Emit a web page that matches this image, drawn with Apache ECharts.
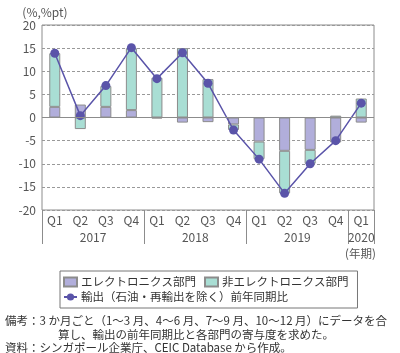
<!DOCTYPE html>
<html>
<head>
<meta charset="utf-8">
<script src="https://cdn.jsdelivr.net/npm/echarts@6/dist/echarts.min.js"></script>
<style>
  html, body { margin: 0; padding: 0; background: #fff; }
  #chart { width: 400px; height: 353px; }
</style>
</head>
<body>
<div id="chart"></div>
<script>
const QUARTERS = ['Q1', 'Q2', 'Q3', 'Q4', 'Q1', 'Q2', 'Q3', 'Q4', 'Q1', 'Q2', 'Q3', 'Q4', 'Q1']
const YEARS = ['2017', '2018', '2019', '2020']
const YEAR_CENTERS = [2, 6, 10, 12.5]
const YEAR_BREAKS = [0, 4, 8, 12, 13]

const ELECTRONICS = [2.3, 2.8, 2.3, 1.6, -0.2, -1.1, -1.0, -1.5, -5.2, -7.2, -7.0, -5.4, -1.1]
const NON_ELECTRONICS = [11.6, -2.5, 4.5, 13.4, 8.6, 15.0, 8.3, -1.2, -3.8, -9.2, -3.0, 0.4, 4.1]
const EXPORTS_YOY = [13.9, 0.4, 6.9, 15.1, 8.4, 14.0, 7.4, -2.7, -9.0, -16.4, -10.0, -5.0, 3.1]

const NAMES = ['エレクトロニクス部門', '非エレクトロニクス部門', '輸出（石油・再輸出を除く）前年同期比']

const FONT = '"Noto Sans CJK JP", "Noto Sans", sans-serif'
const grey = '#8c8c8c'

const chart = echarts.init(document.getElementById('chart'))
chart.setOption({
  animation: false,
  textStyle: { fontFamily: FONT },
  grid: { left: 42, right: 26, top: 25, bottom: 143, show: true, borderColor: grey, borderWidth: 1 },
  legend: {
    left: 60, top: 271, width: 300,
    padding: [5, 4, 5, 3],
    itemGap: 3, itemWidth: 13, itemHeight: 9,
    borderColor: '#777', borderWidth: 1,
    textStyle: { fontSize: 11.5, color: '#333', lineHeight: 12, padding: [0, 5, 0, -1] },
    data: [
      { name: NAMES[0], icon: 'rect' },
      { name: NAMES[1], icon: 'rect' },
      { name: NAMES[2] },
    ],
  },
  xAxis: [
    {
      type: 'category', data: QUARTERS,
      axisLine: { show: false }, axisTick: { show: false },
      axisLabel: { color: '#555', fontSize: 12, margin: 4 },
    },
    {
      type: 'value', min: 0, max: 13, position: 'bottom',
      axisLine: { show: false }, splitLine: { show: false },
      axisTick: { show: true, customValues: YEAR_BREAKS, length: 34, lineStyle: { color: grey } },
      axisLabel: {
        customValues: YEAR_CENTERS, color: '#555', fontSize: 12, margin: 21,
        formatter: (v) => YEARS[YEAR_CENTERS.indexOf(v)] || '',
      },
    },
  ],
  yAxis: {
    type: 'value', min: -20, max: 20, interval: 5,
    name: '(%,%pt)', nameGap: 7,
    nameTextStyle: { color: '#555', fontSize: 12, padding: [0, 0, 0, 6] },
    axisLine: { show: false }, axisTick: { show: false },
    axisLabel: { color: '#555', fontSize: 12, margin: 6 },
    splitLine: { lineStyle: { color: '#999', type: [3, 2] } },
  },
  graphic: [
    { type: 'text', left: 345, top: 248, style: { text: '(年期)', font: '11.5px ' + FONT, fill: '#555' } },
    { type: 'text', left: 5, top: 315, style: { text: '備考：3 か月ごと（1～3 月、4～6 月、7～9 月、10～12 月）にデータを合', font: '11.5px ' + FONT, fill: '#333' } },
    { type: 'text', left: 58, top: 329, style: { text: '算し、輸出の前年同期比と各部門の寄与度を求めた。', font: '11.5px ' + FONT, fill: '#333' } },
    { type: 'text', left: 5, top: 342, style: { text: '資料：シンガポール企業庁、CEIC Database から作成。', font: '11.5px ' + FONT, fill: '#333' } },
  ],
  series: [
    {
      name: NAMES[0], type: 'bar', stack: 'total', barWidth: 11, data: ELECTRONICS,
      itemStyle: { color: '#b1aedb', borderColor: grey, borderWidth: 1 },
      markLine: {
        silent: true, symbol: 'none', label: { show: false },
        lineStyle: { color: grey, type: 'solid', width: 1 },
        data: [{ yAxis: 0 }],
      },
    },
    {
      name: NAMES[1], type: 'bar', stack: 'total', barWidth: 11, data: NON_ELECTRONICS,
      itemStyle: { color: '#a9ded4', borderColor: grey, borderWidth: 1 },
    },
    {
      name: NAMES[2], type: 'line', data: EXPORTS_YOY,
      symbol: 'circle', symbolSize: 9,
      lineStyle: { color: '#5a54a9', width: 1.5 },
      itemStyle: { color: '#5a54a9' },
    },
  ],
})
</script>
</body>
</html>
